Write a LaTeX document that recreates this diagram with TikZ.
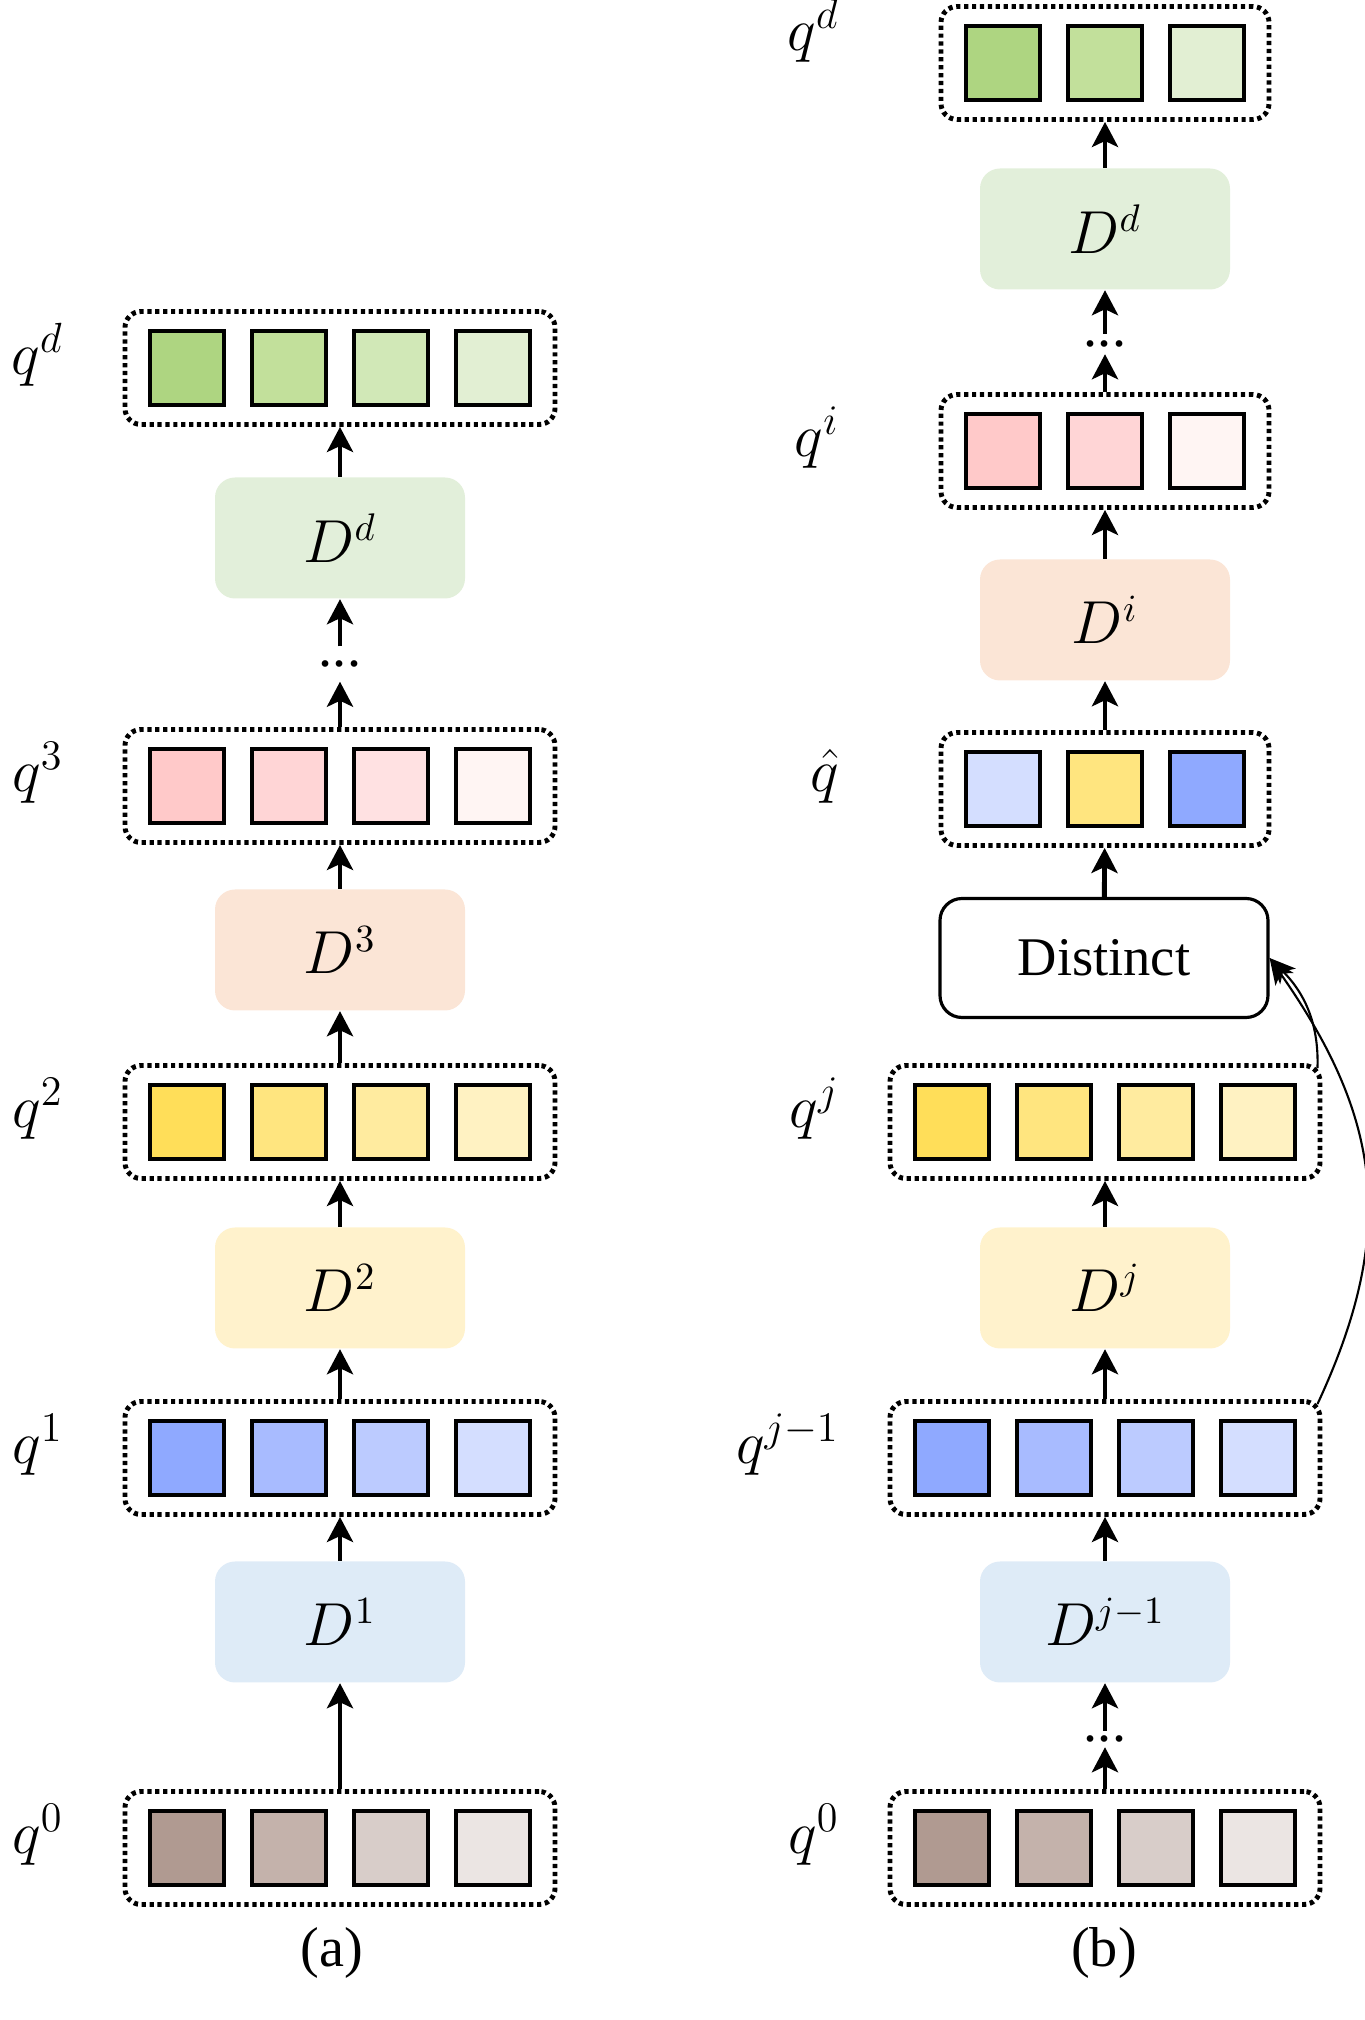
\documentclass[tikz,border=0pt]{standalone}
\usepackage{amsmath, amssymb}
\usepackage{fontspec}
\setmainfont{Liberation Serif}
\usepackage{xcolor}
\usepackage{tikz}
\usetikzlibrary{arrows.meta}

\definecolor{grnA}{HTML}{AED581}
\definecolor{grnB}{HTML}{C2E09B}
\definecolor{grnC}{HTML}{D1E8B7}
\definecolor{grnD}{HTML}{E2EFD3}
\definecolor{pnkA}{HTML}{FFC9C9}
\definecolor{pnkB}{HTML}{FFD5D6}
\definecolor{pnkC}{HTML}{FFE1E2}
\definecolor{pnkD}{HTML}{FFF5F3}
\definecolor{ylwA}{HTML}{FFDE59}
\definecolor{ylwB}{HTML}{FFE57F}
\definecolor{ylwC}{HTML}{FFEB9F}
\definecolor{ylwD}{HTML}{FFF2C2}
\definecolor{bluA}{HTML}{8FA9FF}
\definecolor{bluB}{HTML}{A8BBFF}
\definecolor{bluC}{HTML}{BCCBFF}
\definecolor{bluD}{HTML}{D4DEFF}
\definecolor{brnA}{HTML}{B09A91}
\definecolor{brnB}{HTML}{C4B2AB}
\definecolor{brnC}{HTML}{D8CDC9}
\definecolor{brnD}{HTML}{EBE5E3}
\definecolor{dgrn}{HTML}{E2EFDA}
\definecolor{dpnk}{HTML}{FBE5D6}
\definecolor{dylw}{HTML}{FFF2CC}
\definecolor{dblu}{HTML}{DEEBF7}

\begin{document}
\begin{tikzpicture}[every node/.style={inner sep=0pt},
  sq/.style={draw, line width=1.4pt, minimum size=0.74cm},
  qrow/.style={draw, line width=1.4pt, dash pattern=on 1.2pt off 1.05pt, rounded corners=0.16cm, minimum height=1.13cm},
  dbox/.style={rounded corners=0.2cm, minimum width=2.5cm, minimum height=1.21cm, font=\fontsize{16}{19}\selectfont},
  qlab/.style={anchor=east, font=\fontsize{17}{20}\selectfont},
  dotgap/.style={minimum height=0.34cm, text height=1.7pt, text depth=0pt, font=\fontsize{16}{19}\selectfont},
  arr/.style={line width=1.4pt, -{Stealth[length=2.5mm, width=2.6mm, inset=0.6mm]}},
  back/.style={line width=0.6pt, -{Stealth[length=2.6mm, width=2.2mm, inset=0.7mm]}}]
  \useasboundingbox (0,0) rectangle (13.65,20.20);

  % (a)
  \node[qrow, minimum width=4.30cm] (aqd) at (3.40,16.52) {};
  \node[sq, fill=grnA] (aqd1) at (1.87,16.52) {};
  \node[sq, fill=grnB] (aqd2) at (2.89,16.52) {};
  \node[sq, fill=grnC] (aqd3) at (3.91,16.52) {};
  \node[sq, fill=grnD] (aqd4) at (4.93,16.52) {};
  \node[qlab] (laqd) at (0.64,16.65) {$q^d$};
  \node[dbox, fill=dgrn] (aDd) at (3.40,14.82) {$D^d$};
  \node[dotgap] (adots) at (3.40,13.56) {...};
  \node[qrow, minimum width=4.30cm] (aq3) at (3.40,12.34) {};
  \node[sq, fill=pnkA] (aq31) at (1.87,12.34) {};
  \node[sq, fill=pnkB] (aq32) at (2.89,12.34) {};
  \node[sq, fill=pnkC] (aq33) at (3.91,12.34) {};
  \node[sq, fill=pnkD] (aq34) at (4.93,12.34) {};
  \node[qlab] (laq3) at (0.64,12.47) {$q^3$};
  \node[dbox, fill=dpnk] (aD3) at (3.40,10.70) {$D^3$};
  \node[qrow, minimum width=4.30cm] (aq2) at (3.40,8.98) {};
  \node[sq, fill=ylwA] (aq21) at (1.87,8.98) {};
  \node[sq, fill=ylwB] (aq22) at (2.89,8.98) {};
  \node[sq, fill=ylwC] (aq23) at (3.91,8.98) {};
  \node[sq, fill=ylwD] (aq24) at (4.93,8.98) {};
  \node[qlab] (laq2) at (0.64,9.11) {$q^2$};
  \node[dbox, fill=dylw] (aD2) at (3.40,7.32) {$D^2$};
  \node[qrow, minimum width=4.30cm] (aq1) at (3.40,5.62) {};
  \node[sq, fill=bluA] (aq11) at (1.87,5.62) {};
  \node[sq, fill=bluB] (aq12) at (2.89,5.62) {};
  \node[sq, fill=bluC] (aq13) at (3.91,5.62) {};
  \node[sq, fill=bluD] (aq14) at (4.93,5.62) {};
  \node[qlab] (laq1) at (0.64,5.75) {$q^1$};
  \node[dbox, fill=dblu] (aD1) at (3.40,3.98) {$D^1$};
  \node[qrow, minimum width=4.30cm] (aq0) at (3.40,1.72) {};
  \node[sq, fill=brnA] (aq01) at (1.87,1.72) {};
  \node[sq, fill=brnB] (aq02) at (2.89,1.72) {};
  \node[sq, fill=brnC] (aq03) at (3.91,1.72) {};
  \node[sq, fill=brnD] (aq04) at (4.93,1.72) {};
  \node[qlab] (laq0) at (0.64,1.85) {$q^0$};
  \node[font=\fontsize{16}{19}\selectfont] (capa) at (3.32,0.67) {(a)};
  \draw[arr] (aq0) -- (aD1);
  \draw[arr] (aD1) -- (aq1);
  \draw[arr] (aq1) -- (aD2);
  \draw[arr] (aD2) -- (aq2);
  \draw[arr] (aq2) -- (aD3);
  \draw[arr] (aD3) -- (aq3);
  \draw[arr] (aq3) -- (adots);
  \draw[arr] (adots) -- (aDd);
  \draw[arr] (aDd) -- (aqd);

  % (b)
  \node[qrow, minimum width=3.28cm] (bqd) at (11.05,19.57) {};
  \node[sq, fill=grnA] (bqd1) at (10.03,19.57) {};
  \node[sq, fill=grnB] (bqd2) at (11.05,19.57) {};
  \node[sq, fill=grnD] (bqd3) at (12.07,19.57) {};
  \node[qlab] (lbqd) at (8.40,19.89) {$q^d$};
  \node[dbox, fill=dgrn] (bDd) at (11.05,17.91) {$D^d$};
  \node[dotgap, minimum height=0.19cm] (bdotsi) at (11.05,16.76) {...};
  \node[qrow, minimum width=3.28cm] (bqi) at (11.05,15.69) {};
  \node[sq, fill=pnkA] (bqi1) at (10.03,15.69) {};
  \node[sq, fill=pnkB] (bqi2) at (11.05,15.69) {};
  \node[sq, fill=pnkD] (bqi3) at (12.07,15.69) {};
  \node[qlab] (lbqi) at (8.40,15.82) {$q^i$};
  \node[dbox, fill=dpnk] (bDi) at (11.05,14.00) {$D^i$};
  \node[qrow, minimum width=3.28cm] (bqh) at (11.05,12.31) {};
  \node[sq, fill=bluD] (bqh1) at (10.03,12.31) {};
  \node[sq, fill=ylwB] (bqh2) at (11.05,12.31) {};
  \node[sq, fill=bluA] (bqh3) at (12.07,12.31) {};
  \node[qlab] (lbqh) at (8.40,12.44) {$\hat{q}$};
  \node[draw, line width=0.9pt, rounded corners=0.22cm, minimum width=3.28cm, minimum height=1.19cm, font=\fontsize{15.5}{18}\selectfont] (dist) at (11.04,10.62) {Distinct};
  \node[qrow, minimum width=4.30cm] (bqj) at (11.05,8.98) {};
  \node[sq, fill=ylwA] (bqj1) at (9.52,8.98) {};
  \node[sq, fill=ylwB] (bqj2) at (10.54,8.98) {};
  \node[sq, fill=ylwC] (bqj3) at (11.56,8.98) {};
  \node[sq, fill=ylwD] (bqj4) at (12.58,8.98) {};
  \node[qlab] (lbqj) at (8.40,9.11) {$q^j$};
  \node[dbox, fill=dylw] (bDj) at (11.05,7.32) {$D^j$};
  \node[qrow, minimum width=4.30cm] (bqjm) at (11.05,5.62) {};
  \node[sq, fill=bluA] (bqjm1) at (9.52,5.62) {};
  \node[sq, fill=bluB] (bqjm2) at (10.54,5.62) {};
  \node[sq, fill=bluC] (bqjm3) at (11.56,5.62) {};
  \node[sq, fill=bluD] (bqjm4) at (12.58,5.62) {};
  \node[qlab] (lbqjm) at (8.40,5.75) {$q^{j-1}$};
  \node[dbox, fill=dblu] (bDjm) at (11.05,3.98) {$D^{j-1}$};
  \node[dotgap, minimum height=0.15cm] (bdots0) at (11.05,2.81) {...};
  \node[qrow, minimum width=4.30cm] (bq0) at (11.05,1.72) {};
  \node[sq, fill=brnA] (bq01) at (9.52,1.72) {};
  \node[sq, fill=brnB] (bq02) at (10.54,1.72) {};
  \node[sq, fill=brnC] (bq03) at (11.56,1.72) {};
  \node[sq, fill=brnD] (bq04) at (12.58,1.72) {};
  \node[qlab] (lbq0) at (8.40,1.85) {$q^0$};
  \node[font=\fontsize{16}{19}\selectfont] (capb) at (11.04,0.67) {(b)};
  \draw[arr] (bq0) -- (bdots0);
  \draw[arr] (bdots0) -- (bDjm);
  \draw[arr] (bDjm) -- (bqjm);
  \draw[arr] (bqjm) -- (bDj);
  \draw[arr] (bDj) -- (bqj);
  \draw[arr] (bqh) -- (bDi);
  \draw[arr] (bDi) -- (bqi);
  \draw[arr] (bqi) -- (bdotsi);
  \draw[arr] (bdotsi) -- (bDd);
  \draw[arr] (bDd) -- (bqd);
  \draw[arr] (dist) -- (bqh);
  \draw[back] ([shift={(-0.05,-0.05)}]bqj.north east) to[out=88, in=-45] (dist.east);
  \draw[back] ([shift={(-0.05,-0.05)}]bqjm.north east) to[out=65, in=-55, looseness=1.1] (dist.east);
\end{tikzpicture}
\end{document}
